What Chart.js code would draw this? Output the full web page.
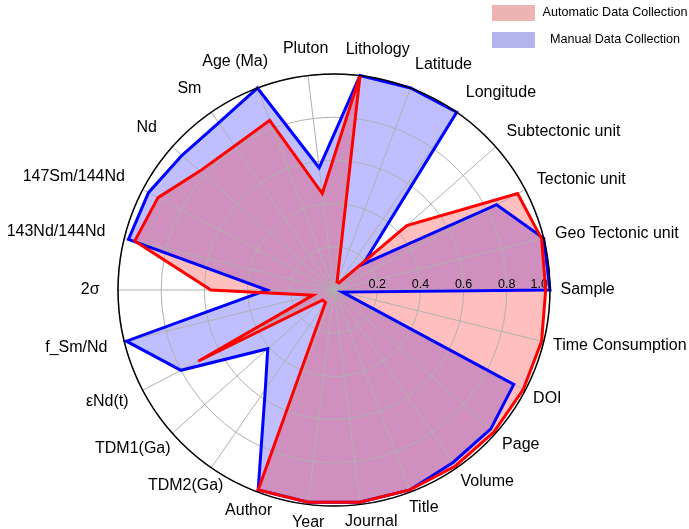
<!DOCTYPE html>
<html>
<head>
<meta charset="utf-8">
<script src="https://cdn.jsdelivr.net/npm/chart.js@4.4.1/dist/chart.umd.min.js"></script>
<style>
  html, body { margin: 0; padding: 0; background: #ffffff; }
  #wrap { width: 689px; height: 529px; position: relative; }
</style>
</head>
<body>
<div id="wrap"><canvas id="c" width="689" height="529"></canvas></div>
<script>
// Categories in drawing order (clockwise from "Sample" at the right)
const categories = [
  "Sample", "Time Consumption", "DOI", "Page", "Volume", "Title", "Journal", "Year",
  "Author", "TDM2(Ga)", "TDM1(Ga)", "εNd(t)", "f_Sm/Nd", "2σ", "143Nd/144Nd",
  "147Sm/144Nd", "Nd", "Sm", "Age (Ma)", "Pluton", "Lithology", "Latitude",
  "Longitude", "Subtectonic unit", "Tectonic unit", "Geo Tectonic unit"
];
const seriesNames = ["Automatic Data Collection", "Manual Data Collection"];
const automaticValues = [
  0.98, 0.99, 0.99, 0.99, 0.99, 0.99, 0.99, 0.99,
  0.99, 0.07, 0.07, 0.71, 0.10, 0.57, 0.95,
  0.92, 0.83, 0.81, 0.84, 0.45, 1.00, 0.04,
  0.04, 0.45, 0.96, 0.99
];
const manualValues = [
  1.00, 0.04, 0.94, 0.97, 0.97, 0.99, 0.99, 0.99,
  0.99, 0.56, 0.41, 0.80, 0.99, 0.31, 0.98,
  0.97, 0.94, 0.94, 1.00, 0.57, 1.00, 1.00,
  1.00, 0.18, 0.85, 1.00
];
const tickValues = [0.2, 0.4, 0.6, 0.8, 1.0];
const tickLabels = ["0.2", "0.4", "0.6", "0.8", "1.0"];

const FONT = "'Liberation Sans', Arial, Helvetica, sans-serif";
const styles = {
  autoLine: "#ff0000", autoFill: "rgba(255,0,0,0.25)", autoPatch: "#ecb4b2",
  manLine: "#0000ff", manFill: "rgba(0,0,255,0.25)", manPatch: "#b4b4ec",
  grid: "#b0b0b0"
};

const customPlugin = {
  id: "customPolar",
  beforeDatasetsDraw(chart) {
    const s = chart.scales.r, ctx = chart.ctx;
    const R = s.drawingArea;
    ctx.save();
    ctx.font = "12.5px " + FONT;
    ctx.fillStyle = "#000";
    ctx.textAlign = "center";
    ctx.textBaseline = "alphabetic";
    tickValues.forEach((v, i) => {
      const d = s.getDistanceFromCenterForValue(v);
      const w = ctx.measureText(tickLabels[i]).width;
      let x = s.xCenter + d;
      if (x + w / 2 > s.xCenter + R - 2) x = s.xCenter + R - 2 - w / 2;
      ctx.fillText(tickLabels[i], x, s.yCenter - 2);
    });
    ctx.restore();
  },
  afterDatasetsDraw(chart) {
    const s = chart.scales.r, ctx = chart.ctx;
    const R = s.drawingArea;
    ctx.save();
    // outer spine
    ctx.beginPath();
    ctx.arc(s.xCenter, s.yCenter, R, 0, Math.PI * 2);
    ctx.lineWidth = 1.5;
    ctx.strokeStyle = "#000";
    ctx.stroke();
    // category labels
    const fs = 16;
    ctx.font = fs + "px " + FONT;
    ctx.fillStyle = "#000";
    ctx.textAlign = "left";
    ctx.textBaseline = "middle";
    categories.forEach((lab, i) => {
      const a = s.getIndexAngle(i) - Math.PI / 2;
      const c = Math.cos(a), sn = -Math.sin(a);
      const pad = 14.5 - 4 * c + 4.5 * sn;
      const p = s.getPointPosition(i, R + pad);
      const w = ctx.measureText(lab).width;
      const k = 0.8 + 0.2 * sn;
      const f = Math.max(0, Math.min(1, 0.5 - k * c - 0.12));
      ctx.fillText(lab, p.x - f * w, p.y - sn * fs / 2);
    });
    ctx.restore();
  },
  afterDraw(chart) {
    const ctx = chart.ctx;
    const W = chart.width;
    ctx.save();
    const items = [
      { name: seriesNames[0], color: styles.autoPatch },
      { name: seriesNames[1], color: styles.manPatch }
    ];
    ctx.font = "12.6px " + FONT;
    ctx.textAlign = "center";
    ctx.textBaseline = "middle";
    items.forEach((it, i) => {
      const y = 5 + i * 27;
      ctx.fillStyle = it.color;
      ctx.fillRect(W - 197, y, 43, 16);
      ctx.fillStyle = "#000";
      ctx.fillText(it.name, W - 74, y + 8);
    });
    ctx.restore();
  }
};

new Chart(document.getElementById("c"), {
  type: "radar",
  data: {
    labels: categories,
    datasets: [
      {
        label: seriesNames[0], data: automaticValues,
        borderColor: styles.autoLine, backgroundColor: styles.autoFill,
        borderWidth: 3, pointRadius: 0, pointHoverRadius: 0, fill: true, tension: 0,
        borderJoinStyle: "miter"
      },
      {
        label: seriesNames[1], data: manualValues,
        borderColor: styles.manLine, backgroundColor: styles.manFill,
        borderWidth: 3, pointRadius: 0, pointHoverRadius: 0, fill: true, tension: 0,
        borderJoinStyle: "miter"
      }
    ]
  },
  options: {
    responsive: false,
    animation: false,
    layout: { padding: { left: 118, top: 74, right: 139, bottom: 23 } },
    plugins: {
      legend: { display: false },
      tooltip: { enabled: false },
      filler: { drawTime: "beforeDraw" }
    },
    scales: {
      r: {
        min: 0, max: 1,
        startAngle: 90,
        ticks: { display: false, stepSize: 0.2 },
        pointLabels: { display: false },
        grid: { circular: true, color: styles.grid, lineWidth: 1 },
        angleLines: { color: styles.grid, lineWidth: 1 }
      }
    }
  },
  plugins: [customPlugin]
});
</script>
</body>
</html>
